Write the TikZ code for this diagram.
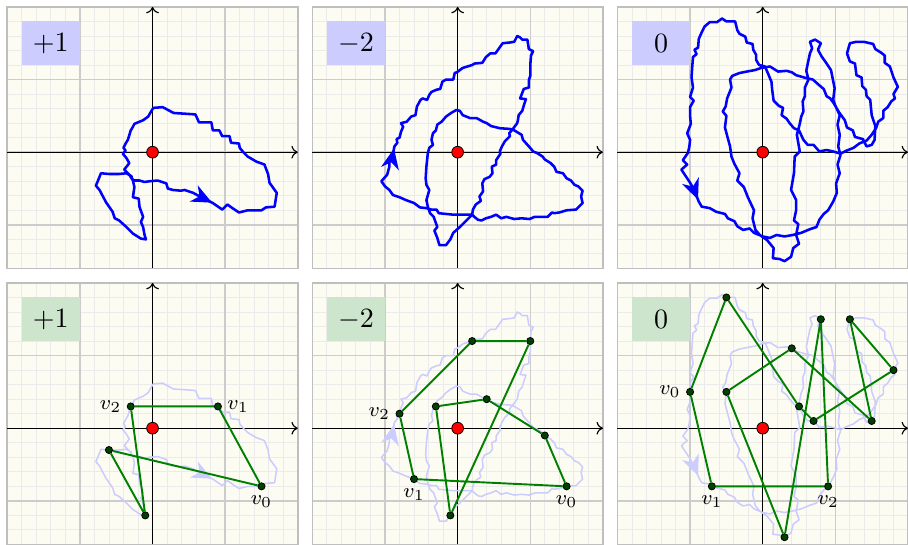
\documentclass[tikz,border=0pt]{standalone}
\usetikzlibrary{arrows.meta, decorations.markings}

\definecolor{paper}{RGB}{252,252,242}
\colorlet{polygreen}{green!50!black}

% the three closed walks, drawn with a given style
\newcommand\windA[1]{\draw[#1] (0.39,-0.53) -- (0.44,-0.52) -- (0.56,-0.56) -- (0.65,-0.61) -- (0.83,-0.70) -- (0.96,-0.79) -- (1.03,-0.72) -- (1.10,-0.77) -- (1.19,-0.83) -- (1.31,-0.80) -- (1.43,-0.80) -- (1.50,-0.80) -- (1.56,-0.76) -- (1.68,-0.75) -- (1.71,-0.56) -- (1.61,-0.42) -- (1.59,-0.30) -- (1.54,-0.17) -- (1.43,-0.13) -- (1.31,-0.06) -- (1.25,0.00) -- (1.20,0.06) -- (1.19,0.12) -- (1.08,0.13) -- (1.06,0.22) -- (0.96,0.22) -- (0.92,0.30) -- (0.83,0.30) -- (0.81,0.41) -- (0.64,0.41) -- (0.59,0.52) -- (0.29,0.54) -- (0.14,0.62) -- (0.01,0.61) -- (-0.02,0.56) -- (-0.06,0.49) -- (-0.13,0.44) -- (-0.25,0.39) -- (-0.27,0.35) -- (-0.30,0.30) -- (-0.34,0.17) -- (-0.37,0.12) -- (-0.40,0.06) -- (-0.37,0.02) -- (-0.41,-0.02) -- (-0.36,-0.08) -- (-0.32,-0.15) -- (-0.39,-0.24) -- (-0.32,-0.31) -- (-0.27,-0.39) -- (-0.25,-0.48) -- (-0.27,-0.62) -- (-0.19,-0.64) -- (-0.18,-0.75) -- (-0.13,-0.89) -- (-0.16,-0.96) -- (-0.13,-1.03) -- (-0.11,-1.14) -- (-0.09,-1.20) -- (-0.16,-1.19) -- (-0.27,-1.12) -- (-0.36,-1.03) -- (-0.46,-0.94) -- (-0.52,-0.91) -- (-0.55,-0.82) -- (-0.64,-0.69) -- (-0.73,-0.52) -- (-0.78,-0.46) -- (-0.75,-0.39) -- (-0.71,-0.29) -- (-0.60,-0.30) -- (-0.46,-0.30) -- (-0.36,-0.29) -- (-0.29,-0.33) -- (-0.29,-0.36) -- (-0.25,-0.39) -- (-0.18,-0.39) -- (-0.11,-0.41) -- (-0.04,-0.40) -- (0.07,-0.39) -- (0.19,-0.43) -- (0.21,-0.50) -- (0.28,-0.52) -- cycle;}

\newcommand\windB[1]{\draw[#1] (-1.05,-0.40) -- (-0.97,-0.31) -- (-0.94,-0.20) -- (-0.94,-0.11) -- (-0.89,-0.02) -- (-0.87,0.08) -- (-0.83,0.13) -- (-0.84,0.18) -- (-0.80,0.20) -- (-0.78,0.28) -- (-0.75,0.35) -- (-0.78,0.40) -- (-0.70,0.42) -- (-0.64,0.49) -- (-0.58,0.51) -- (-0.56,0.63) -- (-0.51,0.72) -- (-0.48,0.74) -- (-0.42,0.72) -- (-0.39,0.79) -- (-0.36,0.83) -- (-0.29,0.86) -- (-0.24,0.87) -- (-0.21,0.97) -- (-0.16,1.00) -- (-0.06,1.00) -- (-0.04,1.09) -- (-0.01,1.10) -- (0.07,1.16) -- (0.20,1.20) -- (0.23,1.22) -- (0.34,1.23) -- (0.39,1.31) -- (0.45,1.36) -- (0.52,1.36) -- (0.57,1.43) -- (0.62,1.50) -- (0.72,1.51) -- (0.78,1.52) -- (0.82,1.60) -- (0.86,1.58) -- (0.89,1.55) -- (0.96,1.55) -- (0.98,1.42) -- (1.04,1.39) -- (1.01,1.33) -- (1.00,1.20) -- (1.00,1.05) -- (0.98,0.99) -- (0.98,0.89) -- (0.91,0.87) -- (0.86,0.74) -- (0.94,0.73) -- (0.91,0.64) -- (0.89,0.57) -- (0.84,0.51) -- (0.83,0.44) -- (0.82,0.40) -- (0.76,0.32) -- (0.71,0.26) -- (0.72,0.22) -- (0.65,0.15) -- (0.61,0.08) -- (0.58,0.01) -- (0.59,-0.02) -- (0.53,-0.11) -- (0.53,-0.17) -- (0.47,-0.20) -- (0.48,-0.29) -- (0.44,-0.34) -- (0.37,-0.37) -- (0.34,-0.43) -- (0.35,-0.54) -- (0.30,-0.61) -- (0.32,-0.67) -- (0.25,-0.72) -- (0.21,-0.79) -- (0.20,-0.86) -- (0.12,-0.94) -- (0.03,-1.03) -- (-0.06,-1.11) -- (-0.10,-1.20) -- (-0.16,-1.28) -- (-0.25,-1.28) -- (-0.28,-1.18) -- (-0.32,-1.08) -- (-0.28,-1.03) -- (-0.33,-0.89) -- (-0.38,-0.84) -- (-0.41,-0.75) -- (-0.43,-0.66) -- (-0.41,-0.59) -- (-0.39,-0.52) -- (-0.43,-0.45) -- (-0.44,-0.36) -- (-0.43,-0.20) -- (-0.41,-0.01) -- (-0.39,0.06) -- (-0.34,0.10) -- (-0.36,0.17) -- (-0.34,0.26) -- (-0.30,0.30) -- (-0.28,0.38) -- (-0.22,0.42) -- (-0.16,0.49) -- (-0.09,0.54) -- (-0.02,0.58) -- (0.03,0.57) -- (0.07,0.51) -- (0.17,0.47) -- (0.26,0.47) -- (0.35,0.42) -- (0.40,0.40) -- (0.46,0.36) -- (0.58,0.33) -- (0.72,0.32) -- (0.78,0.30) -- (0.88,0.24) -- (0.90,0.17) -- (0.98,0.08) -- (1.04,0.01) -- (1.09,-0.01) -- (1.17,-0.06) -- (1.20,-0.10) -- (1.28,-0.15) -- (1.33,-0.20) -- (1.36,-0.27) -- (1.45,-0.29) -- (1.50,-0.36) -- (1.56,-0.39) -- (1.61,-0.45) -- (1.66,-0.47) -- (1.72,-0.53) -- (1.70,-0.61) -- (1.72,-0.70) -- (1.63,-0.79) -- (1.50,-0.80) -- (1.40,-0.83) -- (1.33,-0.84) -- (1.30,-0.83) -- (1.24,-0.89) -- (1.15,-0.89) -- (1.06,-0.89) -- (0.99,-0.92) -- (0.88,-0.91) -- (0.78,-0.92) -- (0.67,-0.89) -- (0.60,-0.91) -- (0.53,-0.86) -- (0.46,-0.89) -- (0.39,-0.91) -- (0.33,-0.94) -- (0.28,-0.93) -- (0.23,-0.89) -- (0.20,-0.86) -- (0.12,-0.86) -- (0.03,-0.86) -- (-0.06,-0.86) -- (-0.16,-0.85) -- (-0.26,-0.84) -- (-0.29,-0.79) -- (-0.36,-0.79) -- (-0.43,-0.77) -- (-0.52,-0.76) -- (-0.60,-0.70) -- (-0.71,-0.66) -- (-0.80,-0.62) -- (-0.89,-0.59) -- (-0.94,-0.52) -- (-1.00,-0.47) -- cycle;}

\newcommand\windC[1]{\draw[#1] (-1.01,0.08) -- (-1.03,-0.01) -- (-1.10,-0.11) -- (-1.04,-0.17) -- (-1.12,-0.24) -- (-1.06,-0.33) -- (-1.00,-0.42) -- (-0.94,-0.53) -- (-0.88,-0.68) -- (-0.84,-0.75) -- (-0.73,-0.77) -- (-0.64,-0.82) -- (-0.52,-0.85) -- (-0.48,-0.91) -- (-0.39,-0.95) -- (-0.35,-1.02) -- (-0.27,-1.07) -- (-0.18,-1.05) -- (-0.12,-1.11) -- (0.00,-1.16) -- (0.10,-1.18) -- (0.19,-1.14) -- (0.30,-1.16) -- (0.41,-1.14) -- (0.53,-1.11) -- (0.65,-1.06) -- (0.74,-1.03) -- (0.78,-0.93) -- (0.84,-0.85) -- (0.90,-0.80) -- (0.97,-0.68) -- (1.02,-0.56) -- (1.01,-0.43) -- (1.06,-0.29) -- (1.03,-0.17) -- (1.07,-0.04) -- (1.04,0.08) -- (1.06,0.24) -- (1.03,0.38) -- (1.06,0.51) -- (1.00,0.64) -- (0.97,0.72) -- (0.99,0.88) -- (0.96,1.03) -- (0.94,1.13) -- (0.88,1.22) -- (0.81,1.32) -- (0.76,1.41) -- (0.80,1.50) -- (0.72,1.55) -- (0.65,1.52) -- (0.68,1.43) -- (0.65,1.36) -- (0.62,1.22) -- (0.60,1.12) -- (0.63,1.00) -- (0.58,0.89) -- (0.58,0.77) -- (0.55,0.70) -- (0.56,0.56) -- (0.53,0.49) -- (0.51,0.39) -- (0.47,0.24) -- (0.51,0.01) -- (0.44,-0.06) -- (0.43,-0.29) -- (0.39,-0.52) -- (0.46,-0.66) -- (0.46,-0.80) -- (0.43,-0.94) -- (0.49,-0.99) -- (0.46,-1.14) -- (0.50,-1.26) -- (0.42,-1.32) -- (0.39,-1.44) -- (0.30,-1.50) -- (0.23,-1.47) -- (0.14,-1.46) -- (0.15,-1.32) -- (0.06,-1.21) -- (-0.04,-1.14) -- (-0.10,-1.07) -- (-0.14,-0.91) -- (-0.12,-0.80) -- (-0.20,-0.63) -- (-0.26,-0.48) -- (-0.35,-0.39) -- (-0.32,-0.29) -- (-0.39,-0.16) -- (-0.43,-0.06) -- (-0.45,0.08) -- (-0.48,0.19) -- (-0.52,0.34) -- (-0.50,0.50) -- (-0.55,0.56) -- (-0.51,0.63) -- (-0.49,0.74) -- (-0.43,0.89) -- (-0.45,1.00) -- (-0.42,1.05) -- (-0.32,1.09) -- (-0.22,1.11) -- (-0.11,1.13) -- (-0.02,1.16) -- (0.10,1.18) -- (0.21,1.11) -- (0.33,1.12) -- (0.40,1.10) -- (0.46,1.06) -- (0.60,1.02) -- (0.69,1.00) -- (0.78,0.92) -- (0.84,0.87) -- (0.88,0.77) -- (0.93,0.74) -- (0.98,0.67) -- (1.05,0.55) -- (1.13,0.44) -- (1.16,0.34) -- (1.24,0.30) -- (1.27,0.21) -- (1.38,0.18) -- (1.43,0.08) -- (1.50,0.10) -- (1.54,0.17) -- (1.55,0.36) -- (1.50,0.51) -- (1.48,0.72) -- (1.43,0.77) -- (1.42,0.86) -- (1.37,0.91) -- (1.36,1.03) -- (1.29,1.06) -- (1.27,1.22) -- (1.20,1.25) -- (1.16,1.36) -- (1.20,1.50) -- (1.29,1.52) -- (1.39,1.52) -- (1.52,1.49) -- (1.55,1.42) -- (1.63,1.37) -- (1.68,1.33) -- (1.68,1.23) -- (1.75,1.18) -- (1.80,1.03) -- (1.86,0.90) -- (1.80,0.80) -- (1.82,0.74) -- (1.77,0.70) -- (1.72,0.62) -- (1.66,0.57) -- (1.66,0.47) -- (1.59,0.42) -- (1.56,0.33) -- (1.50,0.24) -- (1.43,0.16) -- (1.33,0.12) -- (1.25,0.06) -- (1.15,0.02) -- (1.07,-0.02) -- (0.97,0.01) -- (0.88,0.03) -- (0.78,0.01) -- (0.70,0.10) -- (0.62,0.10) -- (0.56,0.17) -- (0.50,0.30) -- (0.43,0.33) -- (0.37,0.40) -- (0.33,0.46) -- (0.26,0.51) -- (0.28,0.61) -- (0.22,0.64) -- (0.15,0.71) -- (0.13,0.86) -- (0.12,0.97) -- (0.07,1.09) -- (0.03,1.18) -- (-0.05,1.20) -- (-0.09,1.27) -- (-0.09,1.34) -- (-0.13,1.41) -- (-0.14,1.49) -- (-0.22,1.51) -- (-0.24,1.59) -- (-0.32,1.63) -- (-0.35,1.68) -- (-0.38,1.80) -- (-0.50,1.80) -- (-0.56,1.84) -- (-0.63,1.79) -- (-0.73,1.79) -- (-0.80,1.73) -- (-0.84,1.65) -- (-0.88,1.56) -- (-0.89,1.44) -- (-0.94,1.41) -- (-0.91,1.35) -- (-0.96,1.31) -- (-0.97,1.18) -- (-0.98,1.03) -- (-0.96,0.89) -- (-1.00,0.76) -- (-0.95,0.71) -- (-1.00,0.62) -- (-1.00,0.50) -- (-0.99,0.39) -- (-1.04,0.26) -- (-1.00,0.17) -- cycle;}

\begin{document}
\begin{tikzpicture}[
panel/.style={draw=black!25, line width=0.6pt},
minor/.style={draw=black!8, line width=0.35pt},
major/.style={draw=black!20, line width=0.55pt},
axis/.style={-{To[length=2.5pt,width=5pt]}, line width=0.45pt},
wind/.style={blue, line width=1pt, line join=round},
faint/.style={blue!20, line width=0.6pt, line join=round},
dirmark/.style={postaction={decorate, decoration={markings,
  mark=at position #1 with {\arrow{Stealth[length=8pt,width=7pt,inset=2.5pt]}}}}},
zero/.style={circle, fill=red, draw=black, line width=0.3pt, inner sep=0pt, minimum size=4.6pt},
tag/.style={minimum width=0.8cm, minimum height=0.6cm, inner sep=0pt, font=\fontsize{11}{13}\selectfont},
poly/.style={polygreen, line width=0.75pt},
vtx/.style={circle, fill=green!25!black, draw=black, line width=0.3pt, inner sep=0pt, minimum size=2.8pt},
lbl/.style={font=\footnotesize, inner sep=1pt, label distance=1pt}
]
\useasboundingbox (-2.1,-5.4) rectangle (10.4,2.095);

% six framed panels with grid and axes
\foreach \ox/\oy in {0/0, 4.2/0, 8.4/0, 0/-3.8, 4.2/-3.8, 8.4/-3.8} {
  \begin{scope}[shift={(\ox,\oy)}]
    \fill[paper] (-2,-1.6) rectangle (2,2);
    \draw[minor, step=0.2] (-2,-1.6) grid (2,2);
    \draw[major, step=1] (-2,-1.6) grid (2,2);
    \draw[panel] (-2,-1.6) rectangle (2,2);
    \draw[axis] (-2,0) -- (2,0);
    \draw[axis] (0,-1.6) -- (0,2);
  \end{scope}
}

% top row: the walks
\windA{wind, dirmark=0.47cm}
\node[zero] (zA) at (0,0) {};
\node[tag, fill=blue!20] (tA) at (-1.4,1.5) {$+1$};

\begin{scope}[shift={(4.2,0)}]
\windB{wind, dirmark=0.5cm}
\node[zero] (zB) at (0,0) {};
\node[tag, fill=blue!20] (tB) at (-1.4,1.5) {$-2$};
\end{scope}

\begin{scope}[shift={(8.4,0)}]
\windC{wind, dirmark=0.88cm}
\node[zero] (zC) at (0,0) {};
\node[tag, fill=blue!20] (tC) at (-1.4,1.5) {$0$};
\end{scope}

% bottom row: sampled polygons
\begin{scope}[shift={(0,-3.8)}]
\windA{faint, dirmark=0.47cm}
\node[vtx, label={[lbl]below:$v_0$}] (a0) at (1.5,-0.8) {};
\node[vtx, label={[lbl]right:$v_1$}] (a1) at (0.9,0.3) {};
\node[vtx, label={[lbl]left:$v_2$}] (a2) at (-0.3,0.3) {};
\node[vtx] (a3) at (-0.1,-1.2) {};
\node[vtx] (a4) at (-0.6,-0.3) {};
\draw[poly] (a0) -- (a1) -- (a2) -- (a3) -- (a4) -- (a0);
\node[zero] (zD) at (0,0) {};
\node[tag, fill=polygreen!20] (tD) at (-1.4,1.5) {$+1$};
\end{scope}

\begin{scope}[shift={(4.2,-3.8)}]
\windB{faint, dirmark=0.5cm}
\node[vtx, label={[lbl]below:$v_0$}] (b0) at (1.5,-0.8) {};
\node[vtx, label={[lbl]below:$v_1$}] (b1) at (-0.6,-0.7) {};
\node[vtx, label={[lbl]left:$v_2$}] (b2) at (-0.8,0.2) {};
\node[vtx] (b3) at (0.2,1.2) {};
\node[vtx] (b4) at (1.0,1.2) {};
\node[vtx] (b5) at (-0.1,-1.2) {};
\node[vtx] (b6) at (-0.3,0.3) {};
\node[vtx] (b7) at (0.4,0.4) {};
\node[vtx] (b8) at (1.2,-0.1) {};
\draw[poly] (b0) -- (b1) -- (b2) -- (b3) -- (b4) -- (b5) -- (b6) -- (b7) -- (b8) -- (b0);
\node[zero] (zE) at (0,0) {};
\node[tag, fill=polygreen!20] (tE) at (-1.4,1.5) {$-2$};
\end{scope}

\begin{scope}[shift={(8.4,-3.8)}]
\windC{faint, dirmark=0.88cm}
\node[vtx, label={[lbl]left:$v_0$}] (c0) at (-1.0,0.5) {};
\node[vtx, label={[lbl]below:$v_1$}] (c1) at (-0.7,-0.8) {};
\node[vtx, label={[lbl]below:$v_2$}] (c2) at (0.9,-0.8) {};
\node[vtx] (c3) at (0.8,1.5) {};
\node[vtx] (c4) at (0.3,-1.5) {};
\node[vtx] (c5) at (-0.5,0.5) {};
\node[vtx] (c6) at (0.4,1.1) {};
\node[vtx] (c7) at (1.5,0.1) {};
\node[vtx] (c8) at (1.2,1.5) {};
\node[vtx] (c9) at (1.8,0.8) {};
\node[vtx] (c10) at (0.7,0.1) {};
\node[vtx] (c11) at (0.5,0.3) {};
\node[vtx] (c12) at (-0.5,1.8) {};
\draw[poly] (c0) -- (c1) -- (c2) -- (c3) -- (c4) -- (c5) -- (c6) -- (c7) -- (c8) -- (c9) -- (c10) -- (c11) -- (c12) -- (c0);
\node[zero] (zF) at (0,0) {};
\node[tag, fill=polygreen!20] (tF) at (-1.4,1.5) {$0$};
\end{scope}
\end{tikzpicture}
\end{document}
